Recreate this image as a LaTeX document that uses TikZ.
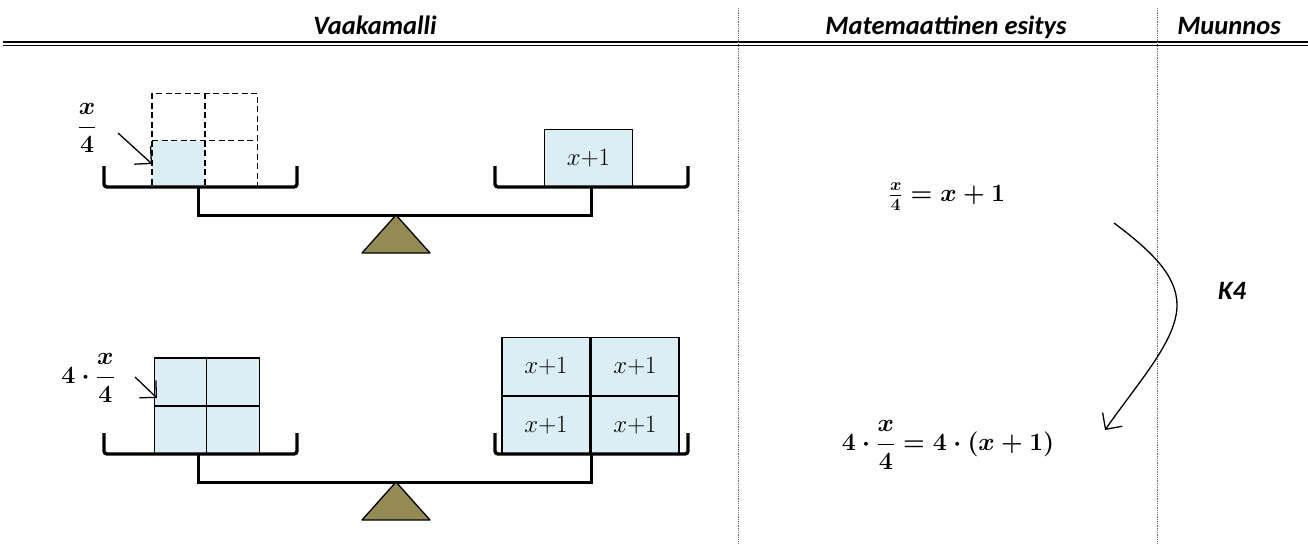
\documentclass[tikz,border=0pt]{standalone}
\usepackage{amsmath}
\usepackage{fontspec}
\newfontfamily\headfont{Carlito}
\usetikzlibrary{arrows.meta}
\definecolor{boxblue}{HTML}{DBEEF4}
\definecolor{olive}{HTML}{948A54}
\begin{document}
\begin{tikzpicture}[x=1pt,y=-1pt,
    head/.style={font=\headfont\bfseries\itshape\fontsize{26.5}{30}\selectfont,anchor=base},
    eq/.style={font=\fontsize{24}{28}\selectfont\boldmath,inner sep=0pt},
    cell/.style={draw,line width=1.4pt,minimum width=52.5pt,minimum height=48pt,inner sep=0pt},
    dcell/.style={minimum width=52.5pt,minimum height=47pt,inner sep=0pt},
    dline/.style={dash pattern=on 6pt off 3.5pt,line width=1.5pt},
    xbox/.style={draw,fill=boxblue,line width=1.4pt,minimum width=88pt,minimum height=58pt,
      inner sep=0pt,font=\fontsize{25}{29}\selectfont},
    pan/.style={line width=3.4pt,rounded corners=3pt},
    beam/.style={line width=3pt},
    pointer/.style={line width=1.3pt,-{Straight Barb[length=12pt,width=24pt]}},
    sep/.style={black!60,densely dotted,line width=0.8pt}]
  \useasboundingbox (0,0) rectangle (1308,543);
  % header
  \node[head] (hvaaka) at (375,35) {Vaakamalli};
  \node[head] (hmat) at (946,35) {Matemaattinen esitys};
  \node[head] (hmuun) at (1229,35) {Muunnos};
  \draw[line width=2.3pt] (3,42.2) -- (1308,42.2);
  \draw[line width=1.3pt] (3,45.3) -- (1308,45.3);
  \draw[sep] (738,8) -- (738,543);
  \draw[sep] (1157,8) -- (1157,543);
  % top scale: boxes
  \foreach \n/\x/\y/\f in {11/178.5/117/none, 21/231/117/none, 12/178.5/164/boxblue, 22/231/164/none}
    \node[dcell,fill=\f] (ta\n) at (\x,\y) {};
  \draw[dline] (ta11.north west) rectangle (ta22.south east);
  \draw[dline] (ta11.north east) -- (ta12.south east);
  \draw[dline] (ta11.south west) -- (ta21.south east);
  \node[xbox] (tb) at (588.5,158.5) {$x{+}1$};
  % bottom scale: boxes
  \foreach \n/\x/\y in {11/180.5/382, 21/233/382, 12/180.5/430.5, 22/233/430.5}
    \node[cell,fill=boxblue] (ba\n) at (\x,\y) {};
  \foreach \n/\x/\y in {11/546/366.5, 21/635/366.5, 12/546/425.5, 22/635/425.5}
    \node[xbox] (bb\n) at (\x,\y) {$x{+}1$};
  % scales
  \foreach \dy in {0,267}{
    \begin{scope}[shift={(0,\dy)}]
      \draw[pan] (104,166) -- (104,187) -- (297,187) -- (297,166);
      \draw[pan] (495,166) -- (495,187) -- (688,187) -- (688,166);
      \draw[beam] (198,187) -- (198,215) -- (591,215) -- (591,187);
      \draw[fill=olive,line width=1.3pt,line join=round] (396,215) -- (430,253) -- (362,253) -- cycle;
    \end{scope}
  }
  % labels
  \node[eq] (lbla) at (87,128) {$\dfrac{x}{4}$};
  \node[eq] (lblb) at (88,378) {$4\cdot\dfrac{x}{4}$};
  \coordinate (froma) at (118,133);
  \coordinate (fromb) at (135,377);
  \coordinate (tipb) at (157,398);
  \draw[pointer] (froma) -- (ta12.west);
  \draw[pointer] (fromb) -- (tipb);
  % equations
  \node[eq] (eqa) at (947,197) {$\frac{x}{4}=x+1$};
  \node[eq] (eqb) at (948,445) {$4\cdot\dfrac{x}{4}=4\cdot(x+1)$};
  % transformation
  \coordinate (kfrom) at (1114,223);
  \coordinate (kto) at (1105,430);
  \draw[pointer] (kfrom) .. controls (1150,250) and (1177,275) .. (1177,305)
    .. controls (1177,340) and (1140,380) .. (kto);
  \node[head,anchor=center] (k4) at (1232,291) {K4};
\end{tikzpicture}
\end{document}
